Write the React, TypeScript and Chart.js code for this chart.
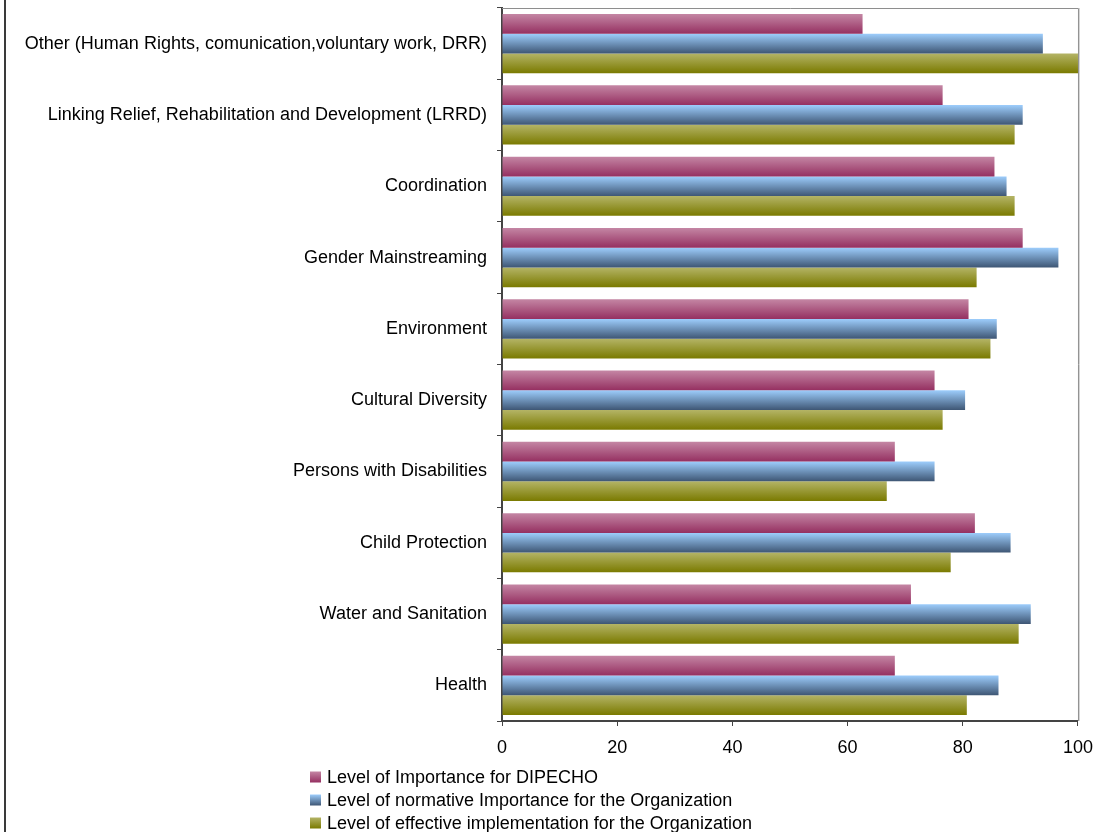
import { useEffect, useRef } from 'react';
import { Chart, registerables } from 'chart.js';

Chart.register(...registerables);

const FONT = '"Liberation Sans", Arial, Helvetica, sans-serif';

// Categories, listed top to bottom
const categories = [
  'Other (Human Rights, comunication,voluntary work, DRR)',
  'Linking Relief, Rehabilitation and Development (LRRD)',
  'Coordination',
  'Gender Mainstreaming',
  'Environment',
  'Cultural Diversity',
  'Persons with Disabilities',
  'Child Protection',
  'Water and Sanitation',
  'Health',
];

const importanceForDipecho = [62.6, 76.5, 85.5, 90.4, 81.0, 75.1, 68.2, 82.1, 71.0, 68.2];
const normativeImportance = [93.9, 90.4, 87.6, 96.6, 85.9, 80.4, 75.1, 88.3, 91.8, 86.2];
const effectiveImplementation = [100, 89.0, 89.0, 82.4, 84.8, 76.5, 66.8, 77.9, 89.7, 80.7];

const seriesNames = [
  'Level of Importance for DIPECHO',
  'Level of normative Importance for the Organization',
  'Level of effective implementation for the Organization',
];

const xTickValues = [0, 20, 40, 60, 80, 100];

// light top -> dark bottom shading for each series
const seriesShades = [
  { top: '#c486a4', bottom: '#953061' },
  { top: '#9dcdfc', bottom: '#3e5674' },
  { top: '#b4b466', bottom: '#7a7a00' },
];

const CAT_PCT = 0.83;

function shade(ctx: CanvasRenderingContext2D, top: number, h: number, s: { top: string; bottom: string }) {
  const g = ctx.createLinearGradient(0, top, 0, top + h);
  g.addColorStop(0, s.top);
  g.addColorStop(1, s.bottom);
  return g;
}

function barFill(seriesIndex: number) {
  const s = seriesShades[seriesIndex];
  return (c: any) => {
    const chart = c.chart;
    const ys = chart.scales && chart.scales.y;
    if (c.type !== 'data' || !ys || !chart.chartArea) return s.bottom;
    const band = ys.height / categories.length;
    const total = band * CAT_PCT;
    const h = total / 3;
    const top = ys.getPixelForValue(c.dataIndex) - total / 2 + c.datasetIndex * h;
    return shade(chart.ctx, top, h, s);
  };
}

const framePlugin = {
  id: 'frame',
  beforeDatasetsDraw(chart: any) {
    const { ctx, chartArea } = chart;
    ctx.save();
    // outer chart frame (left edge)
    ctx.fillStyle = '#3a3a3a';
    ctx.fillRect(4, 0, 2, chart.height);
    // plot area border: top and right
    ctx.strokeStyle = '#8e8e8e';
    ctx.lineWidth = 1;
    ctx.beginPath();
    ctx.moveTo(chartArea.left, chartArea.top + 0.5);
    ctx.lineTo(chartArea.right + 0.5, chartArea.top + 0.5);
    ctx.lineTo(chartArea.right + 0.5, chartArea.bottom);
    ctx.stroke();
    ctx.strokeStyle = '#d4d4d4';
    ctx.beginPath();
    ctx.moveTo(chartArea.right + 1.5, chartArea.top);
    ctx.lineTo(chartArea.right + 1.5, chartArea.bottom);
    ctx.stroke();
    ctx.restore();
  },
  afterDraw(chart: any) {
    const { ctx } = chart;
    ctx.save();
    const x0 = 310;
    const rows = [777, 800, 823];
    ctx.font = `18px ${FONT}`;
    ctx.textBaseline = 'middle';
    ctx.fillStyle = '#000';
    chart.data.datasets.forEach((ds: any, i: number) => {
      const cy = rows[i];
      const size = 11;
      ctx.fillStyle = shade(ctx, cy - size / 2, size, seriesShades[i]);
      ctx.fillRect(x0, cy - size / 2, size, size);
      ctx.fillStyle = '#000';
      ctx.fillText(ds.label, x0 + 17, cy + 1);
    });
    ctx.restore();
  },
};

export default function App() {
  const ref = useRef<HTMLCanvasElement | null>(null);

  useEffect(() => {
    document.body.style.margin = '0';
    const canvas = ref.current;
    if (!canvas) return;
    const chart = new Chart(canvas, {
      type: 'bar',
      data: {
        labels: categories,
        datasets: [importanceForDipecho, normativeImportance, effectiveImplementation].map((values, i) => ({
          label: seriesNames[i],
          data: values,
          backgroundColor: barFill(i),
          borderWidth: 0,
          categoryPercentage: CAT_PCT,
          barPercentage: 1,
        })),
      },
      options: {
        indexAxis: 'y',
        responsive: false,
        animation: false,
        layout: { padding: { top: 8, right: 24, left: 0, bottom: 0 } },
        plugins: {
          legend: { display: false },
          tooltip: { enabled: false },
        },
        scales: {
          x: {
            min: 0,
            max: 100,
            afterBuildTicks: (scale: any) => {
              scale.ticks = xTickValues.map((v) => ({ value: v }));
            },
            afterFit: (scale: any) => {
              scale.height = 111;
            },
            grid: { drawOnChartArea: false, drawTicks: true, tickLength: 5, color: '#444' },
            border: { display: true, color: '#444', width: 2 },
            ticks: { color: '#000', font: { family: FONT, size: 18 }, padding: 11, maxRotation: 0 },
          },
          y: {
            afterFit: (scale: any) => {
              scale.width = 502;
              scale.paddingTop = 0;
              scale.paddingBottom = 0;
            },
            grid: { drawOnChartArea: false, drawTicks: true, tickLength: 5, color: '#444', offset: true },
            border: { display: true, color: '#444', width: 2 },
            ticks: { color: '#000', font: { family: FONT, size: 18 }, padding: 10, autoSkip: false },
          },
        },
      },
      plugins: [framePlugin],
    });
    return () => chart.destroy();
  }, []);

  return (
    <div style={{ width: 1104, height: 832, position: 'relative' }}>
      <canvas ref={ref} width={1104} height={832} style={{ display: 'block' }} />
    </div>
  );
}
